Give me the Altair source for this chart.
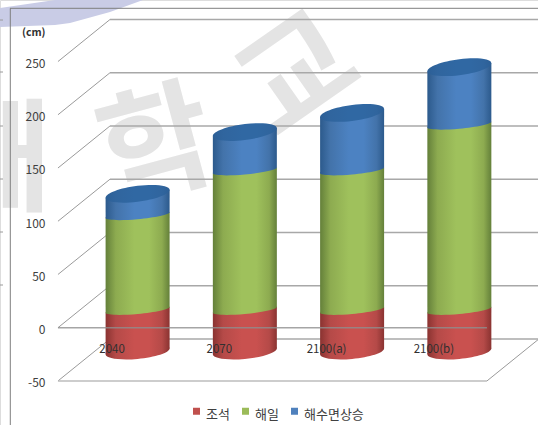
import altair as alt
import pandas as pd

# Projected sea-level components (cm) per scenario, stacked from a common base
categories = ["2040", "2070", "2100(a)", "2100(b)"]
base = [-42, -42, -42, -42]
tide = [39, 39, 39, 39]
surge = [89, 131, 131, 174]
sea_rise = [20, 36, 54, 54]
series_names = ["조석", "해일", "해수면상승"]
legend_colors = ["#c0504d", "#9bbb59", "#4f81bd"]
y_ticks = [-50, 0, 50, 100, 150, 200, 250]

W, H = 538, 425
FONT = "Noto Sans CJK KR"

# Linear scales: one category = 107.25 px, one cm = 1.0647 px.
PX_X, PX_Y = 107.25, 1.0647
X0_PX, Y0_PX = 111.6, 327.7


def xu(px):
    return (px - X0_PX) / PX_X


def yu(px):
    return (Y0_PX - px) / PX_Y


x_scale = alt.Scale(domain=[xu(0), xu(W)], nice=False, zero=False)
y_scale = alt.Scale(domain=[yu(H), yu(0)], nice=False, zero=False)

# Oblique projection of the 3D box
WALL_DX, WALL_DY = 52 / PX_X, 42 / PX_Y  # back wall relative to the front plane
BAR_DX, BAR_DY = 26 / PX_X, 21 / PX_Y  # cylinder axis relative to the front plane
BAR_HALF = 32 / PX_X
RIM_PX = 2.85  # rise of an inner rim across the cylinder's half width
END_PX = 4.0  # same for the top cap


def ellipse_path(shear, minor, k=0.5523):
    """Sheared ellipse in the unit square, used as a custom symbol."""
    pts = [(1, 0), (1, k), (k, 1), (0, 1), (-k, 1), (-1, k), (-1, 0),
           (-1, -k), (-k, -1), (0, -1), (k, -1), (1, -k), (1, 0)]
    xy = [(u, -shear * u + minor * v) for u, v in pts]
    s = f"M{xy[0][0]:.4f},{xy[0][1]:.4f}"
    for i in range(1, len(xy), 3):
        s += "C" + " ".join(f"{a:.4f},{b:.4f}" for a, b in xy[i:i + 3])
    return s + "Z"


CAP_SHAPE = ellipse_path(END_PX / 32, 0.25)
RIM_SHAPE = ellipse_path(RIM_PX / 32, 0.128)
BASE_SHAPE = ellipse_path(RIM_PX / 32, 0.235)
SYMBOL_SIZE = 64 ** 2


def shade(dark, mid, light):
    return alt.Gradient(
        gradient="linear", x1=0, x2=1, y1=0, y2=0,
        stops=[
            alt.GradientStop(color=dark, offset=0),
            alt.GradientStop(color=mid, offset=0.16),
            alt.GradientStop(color=light, offset=0.45),
            alt.GradientStop(color=light, offset=0.68),
            alt.GradientStop(color=mid, offset=0.88),
            alt.GradientStop(color=dark, offset=1),
        ],
    )


RED = shade("#8a3331", "#b54a48", "#c9514f")
GREEN = shade("#64803a", "#8dab50", "#9fc15c")
BLUE = shade("#2c5a8c", "#4373aa", "#4c82c2")
CAP = shade("#2c5f96", "#30659e", "#3068a3")

X_AXIS = alt.Axis(
    values=list(range(len(categories))),
    labelExpr="['2040','2070','2100(a)','2100(b)'][datum.value]",
    offset=-76, domain=False, ticks=False, grid=False, labelPadding=0,
    labelFont=FONT, labelFontSize=11.5, labelColor="#303030", labelBaseline="middle",
    labelFlush=False, labelOverlap=False, zindex=1, title=None,
)
Y_AXIS = alt.Axis(
    values=y_ticks, offset=-45, domain=False, ticks=False, grid=False, labelPadding=0,
    labelExpr="'' + datum.value", labelOffset=2, zindex=1,
    labelFont=FONT, labelFontSize=12, labelColor="#404040", labelOverlap=False,
    title="(cm)", titleAngle=0, titleAlign="right", titleBaseline="middle",
    titleX=0, titleY=32, titleFont=FONT, titleFontSize=10.5, titleFontWeight="bold",
    titleColor="#303030",
)
X = alt.X("x:Q", scale=x_scale, axis=X_AXIS)
Y = alt.Y("y:Q", scale=y_scale, axis=Y_AXIS)
X2 = alt.X2("x2:Q")
Y2 = alt.Y2("y2:Q")


def segment_rows(bottoms, tops, top_px, bottom_px):
    rows = []
    for i in range(len(categories)):
        cx = i + BAR_DX
        for side in (-1, 1):
            rows.append({
                "cat": categories[i],
                "x": cx + side * BAR_HALF,
                "y": tops[i] + BAR_DY + side * top_px / PX_Y,
                "y2": bottoms[i] + BAR_DY + side * bottom_px / PX_Y,
            })
    return pd.DataFrame(rows)


def rim_rows(levels):
    return pd.DataFrame({
        "x": [i + BAR_DX for i in range(len(categories))],
        "y": [v + BAR_DY for v in levels],
    })


def body(bottoms, tops, fill, top_px=RIM_PX, bottom_px=RIM_PX):
    return alt.Chart(segment_rows(bottoms, tops, top_px, bottom_px)).mark_area(
        color=fill, line=False, opacity=1
    ).encode(x=X, y=Y, y2=Y2, detail="cat:N")


def rim(levels, fill, shape=RIM_SHAPE):
    return alt.Chart(rim_rows(levels)).mark_point(
        shape=shape, size=SYMBOL_SIZE, filled=True, color=fill,
        opacity=1, strokeWidth=0,
    ).encode(x=X, y=Y)


tide_top = [a + b for a, b in zip(base, tide)]
surge_top = [a + b for a, b in zip(tide_top, surge)]
total_top = [a + b for a, b in zip(surge_top, sea_rise)]

# Faint institutional watermark behind the plot
wm = pd.DataFrame({
    "t": ["해", "학", "교"],
    "x": [xu(-4), xu(158), xu(300)],
    "y": [yu(164), yu(150), yu(78)],
    "a": [0, 345, 325],
})
watermark = alt.Chart(wm).mark_text(
    font=FONT, fontWeight="bold", fontSize=122, color="#e4e4e4",
    align="center", baseline="middle",
).encode(x=X, y=Y, text="t:N", angle=alt.Angle("a:Q", scale=None))

swoosh_df = pd.DataFrame({
    "x": [xu(p) for p in (0, 55, 70, 110, 143)],
    "y": [yu(p) for p in (8, 0, 0, 0, 0)],
    "y2": [yu(p) for p in (27, 25, 23, 12, 0)],
})
swoosh = alt.Chart(swoosh_df).mark_area(color="#c9cce6", opacity=1).encode(x=X, y=Y, y2=Y2)

# Page frame and the stubs left of it
frame_h = alt.Chart(pd.DataFrame({"x": [xu(10)], "x2": [xu(W)], "y": [yu(8.3)]})).mark_rule(
    color="#7f7f7f", strokeWidth=1).encode(x=X, x2=X2, y=Y)
frame_v = alt.Chart(pd.DataFrame({"x": [xu(10.3)], "y": [yu(8.3)], "y2": [yu(H)]})).mark_rule(
    color="#7f7f7f", strokeWidth=1).encode(x=X, y=Y, y2=Y2)
stubs = alt.Chart(pd.DataFrame({
    "x": [xu(0)] * 6, "x2": [xu(3)] * 6,
    "y": [yu(p) for p in (20, 72, 126, 179, 232, 285)],
})).mark_rule(color="#9a9a9a", strokeWidth=1).encode(x=X, x2=X2, y=Y)

# Back wall grid, side wall diagonals and floor
front_l, front_r = -0.5, 3.5
back_df = pd.DataFrame({
    "x": [front_l + WALL_DX] * len(y_ticks),
    "x2": [front_r + WALL_DX] * len(y_ticks),
    "y": [v + WALL_DY for v in y_ticks],
})
back_grid = alt.Chart(back_df).mark_rule(color="#a8a8a8", strokeWidth=1.4).encode(
    x=X, x2=X2, y=Y)

diag_rows = []
for v in y_ticks:
    diag_rows.append({"g": v, "o": 0, "x": front_l, "y": v})
    diag_rows.append({"g": v, "o": 1, "x": front_l + WALL_DX, "y": v + WALL_DY})
diag_rows.append({"g": "floor", "o": 0, "x": front_r, "y": -50})
diag_rows.append({"g": "floor", "o": 1, "x": front_r + WALL_DX, "y": -50 + WALL_DY})
diagonals = alt.Chart(pd.DataFrame(diag_rows)).mark_line(color="#9a9a9a", strokeWidth=1).encode(
    x=X, y=Y, detail="g:N", order="o:Q")

floor_front = alt.Chart(pd.DataFrame({"x": [front_l], "x2": [front_r], "y": [-50]})).mark_rule(
    color="#bdbdbd", strokeWidth=1.6).encode(x=X, x2=X2, y=Y)
zero_front = alt.Chart(pd.DataFrame({"x": [front_l], "x2": [front_r], "y": [0]})).mark_rule(
    color="#8f8f8f", strokeWidth=1.6, opacity=0.8).encode(x=X, x2=X2, y=Y)

# Legend only: zero-sized points tied to the series colours; the swatch sits
# a little above the label's middle
legend_layer = alt.Chart(pd.DataFrame({"s": series_names, "x": [0] * 3, "y": [0] * 3})).mark_point(
    size=0, filled=True, opacity=0
).encode(
    x=X, y=Y,
    color=alt.Color("s:N", scale=alt.Scale(domain=series_names, range=legend_colors), legend=alt.Legend(
        title=None, orient="none", legendX=190, legendY=408, direction="horizontal", columns=3,
        symbolType="M-1,-2H1V0H-1Z", symbolSize=49, symbolOpacity=1, symbolStrokeWidth=0,
        labelFont=FONT, labelFontSize=13, labelColor="#404040", labelOffset=3,
        columnPadding=9, padding=0,
    )),
)

chart = alt.layer(
    watermark, swoosh, frame_h, frame_v, stubs,
    back_grid, diagonals, floor_front,
    rim(base, RED, BASE_SHAPE), body(base, tide_top, RED),
    rim(tide_top, GREEN), body(tide_top, surge_top, GREEN),
    rim(surge_top, BLUE), body(surge_top, total_top, BLUE, top_px=END_PX),
    rim(total_top, CAP, CAP_SHAPE),
    zero_front, legend_layer,
).properties(
    width=W, height=H, padding=0, autosize=alt.AutoSizeParams(type="none"),
).configure_view(stroke=None).configure(background="white")

chart.save("out.html", embed_options={"renderer": "svg", "actions": False})
